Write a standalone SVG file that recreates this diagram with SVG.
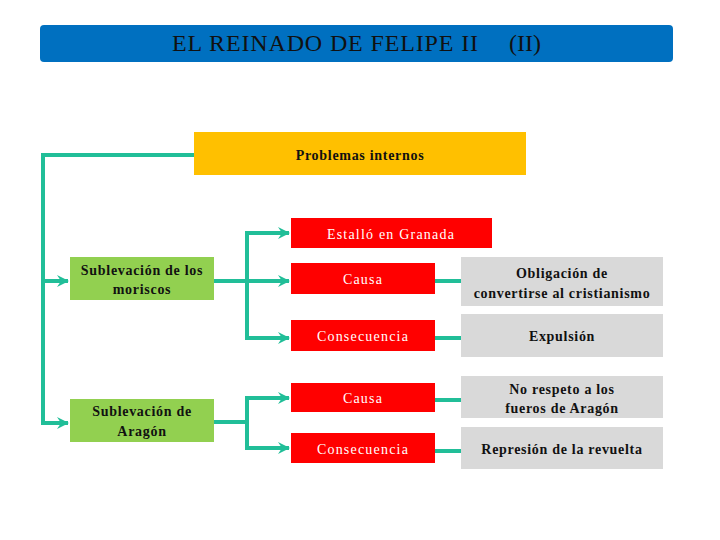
<svg xmlns="http://www.w3.org/2000/svg" width="720" height="540" viewBox="0 0 720 540">
<defs>
<marker id="arr" markerUnits="userSpaceOnUse" markerWidth="14" markerHeight="14" refX="11" refY="7" orient="auto">
<path d="M0,1 L12,7 L0,13 L4,7 z" fill="#21BE98"/>
</marker>
<style>
.ln{fill:none;stroke:#21BE98;stroke-width:4;stroke-linejoin:miter}
text{font-family:'Liberation Serif',serif}
.dk{font-size:14px;font-weight:bold;fill:#111;text-anchor:middle;letter-spacing:0.7px}
.wt{font-size:14px;fill:#fff;text-anchor:middle;letter-spacing:1.2px}
.red{fill:#FF0000}
.gry{fill:#D9D9D9}
.grn{fill:#92D050}
</style>
</defs>
<rect width="720" height="540" fill="#fff"/>
<g id="title" font-family="Liberation Serif, serif">
<rect x="40" y="25" width="633" height="37" rx="4" fill="#0070C0"/>
<text x="172" y="51" font-size="24" fill="#111" textLength="306">EL REINADO DE FELIPE II</text>
<text x="509" y="51" font-size="24" fill="#111">(II)</text>
</g>
<g id="connectors">
<path class="ln" d="M194,155 H43 V423 H68" marker-end="url(#arr)"/>
<path class="ln" d="M43,281 H68" marker-end="url(#arr)"/>
<path class="ln" d="M214,281 H289" marker-end="url(#arr)"/>
<path class="ln" d="M247,281 V233 H289" marker-end="url(#arr)"/>
<path class="ln" d="M247,281 V338 H289" marker-end="url(#arr)"/>
<path class="ln" d="M214,422 H247 V398 H289" marker-end="url(#arr)"/>
<path class="ln" d="M247,422 V448 H289" marker-end="url(#arr)"/>
<path class="ln" d="M435,281 H461 M435,338 H461 M435,400 H461 M435,451 H461"/>
</g>
<g id="problemas" font-family="Liberation Serif, serif">
<rect x="194" y="132" width="332" height="43" fill="#FFC000"/>
<text class="dk" x="360" y="160">Problemas internos</text>
</g>
<g id="estallo" font-family="Liberation Serif, serif">
<rect class="red" x="291" y="218" width="201" height="30"/>
<text class="wt" x="391" y="239">Estalló en Granada</text>
</g>
<g id="moriscos" font-family="Liberation Serif, serif">
<rect class="grn" x="70" y="257" width="144" height="43"/>
<text class="dk" x="142" y="275">Sublevación de los</text>
<text class="dk" x="142" y="294">moriscos</text>
</g>
<g id="aragon" font-family="Liberation Serif, serif">
<rect class="grn" x="70" y="399" width="144" height="43"/>
<text class="dk" x="142" y="416">Sublevación de</text>
<text class="dk" x="142" y="436">Aragón</text>
</g>
<g id="causa1" font-family="Liberation Serif, serif">
<rect class="red" x="291" y="263" width="144" height="31"/>
<text class="wt" x="363" y="284">Causa</text>
</g>
<g id="consecuencia1" font-family="Liberation Serif, serif">
<rect class="red" x="291" y="320" width="144" height="31"/>
<text class="wt" x="363" y="341">Consecuencia</text>
</g>
<g id="causa2" font-family="Liberation Serif, serif">
<rect class="red" x="291" y="383" width="144" height="29"/>
<text class="wt" x="363" y="403">Causa</text>
</g>
<g id="consecuencia2" font-family="Liberation Serif, serif">
<rect class="red" x="291" y="433" width="144" height="30"/>
<text class="wt" x="363" y="454">Consecuencia</text>
</g>
<g id="obligacion" font-family="Liberation Serif, serif">
<rect class="gry" x="461" y="257" width="202" height="49"/>
<text class="dk" x="562" y="278">Obligación de</text>
<text class="dk" x="562" y="298">convertirse al cristianismo</text>
</g>
<g id="expulsion" font-family="Liberation Serif, serif">
<rect class="gry" x="461" y="314" width="202" height="43"/>
<text class="dk" x="562" y="341">Expulsión</text>
</g>
<g id="norespeto" font-family="Liberation Serif, serif">
<rect class="gry" x="461" y="376" width="202" height="42"/>
<text class="dk" x="562" y="394">No respeto a los</text>
<text class="dk" x="562" y="413">fueros de Aragón</text>
</g>
<g id="represion" font-family="Liberation Serif, serif">
<rect class="gry" x="461" y="427" width="202" height="42"/>
<text class="dk" x="562" y="454">Represión de la revuelta</text>
</g>
</svg>
